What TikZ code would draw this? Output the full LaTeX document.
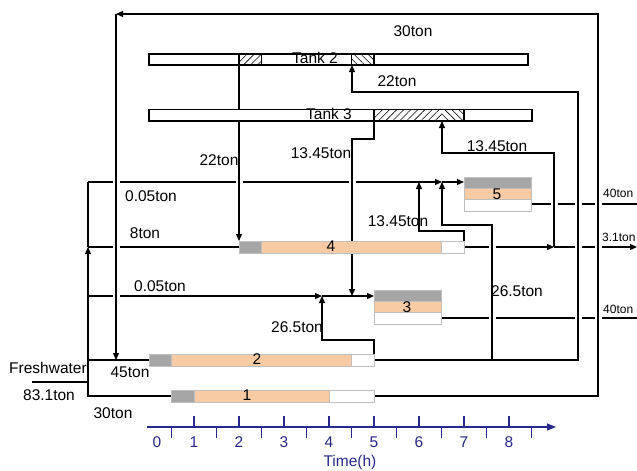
\documentclass[tikz,border=0pt]{standalone}
\usepackage{fontspec}
\setmainfont{Liberation Sans}
\usetikzlibrary{arrows.meta,patterns.meta}

\definecolor{idlegray}{RGB}{166,166,166}
\definecolor{runorange}{RGB}{249,203,164}
\definecolor{edgegray}{RGB}{191,191,191}
\definecolor{axisblue}{RGB}{40,40,140}

% gap in a horizontal pipe where a vertical one crosses it
\newcommand{\linehop}[2]{%
  \fill[white] (#1-3.5,#2-2.2) rectangle (#1+3.5,#2+2.2);
  \draw[flow] (#1,#2-3) -- (#1,#2+3);}

% one operation bar: idle (gray), running (orange), idle (white)
\newcommand{\opbar}[5]{% y, x0, x1, x2, x3
  \fill[idlegray] (#2,#1-6) rectangle (#3,#1+6);
  \fill[runorange] (#3,#1-6) rectangle (#4,#1+6);
  \fill[white] (#4,#1-6) rectangle (#5,#1+6);
  \draw[edge] (#2,#1-6) rectangle (#5,#1+6);
  \draw[edge] (#3,#1-6) -- (#3,#1+6) (#4,#1-6) -- (#4,#1+6);}

% stacked box: idle on top, running, idle below
\newcommand{\opbox}[3]{% x0, x1, ytop
  \fill[idlegray] (#1,#3) rectangle (#2,#3+11);
  \fill[runorange] (#1,#3+11) rectangle (#2,#3+22.5);
  \fill[white] (#1,#3+22.5) rectangle (#2,#3+34);
  \draw[edge] (#1,#3) rectangle (#2,#3+34);
  \draw[edge] (#1,#3+11) -- (#2,#3+11) (#1,#3+22.5) -- (#2,#3+22.5);}

\begin{document}
\begin{tikzpicture}[x=1pt, y=-1pt,
    every node/.style={font=\fontsize{15.5}{18}\selectfont, inner sep=0pt},
    flow/.style={line width=1.2pt},
    arrow/.style={flow, -{Triangle[length=7pt, width=6pt]}},
    edge/.style={edgegray, line width=0.8pt},
    tank/.style={draw, line width=1.1pt, fill=white},
    filling/.style={pattern={Lines[angle=45, distance=5pt, line width=0.6pt]}},
    drawing/.style={pattern={Lines[angle=-45, distance=5pt, line width=0.6pt]}},
    axis/.style={axisblue, line width=1.2pt},
    axislabel/.style={text=axisblue},
    outlabel/.style={anchor=west, font=\fontsize{12}{14}\selectfont}
  ]
  \useasboundingbox (0,0) rectangle (637,471);
  \clip (0,0) rectangle (637,471);

  % --- Ports ---
  \coordinate (fresh) at (32,382);
  \coordinate (split) at (88,382);
  \coordinate (t1in) at (171.5,396);
  \coordinate (t1out) at (374,396);
  \coordinate (t2in) at (149,360);
  \coordinate (t2out) at (374,360);
  \coordinate (t4in) at (239,247);
  \coordinate (t4out) at (464,247);
  \coordinate (t3in) at (374,296);
  \coordinate (t3out) at (441.5,318);
  \coordinate (t5in) at (464,182);
  \coordinate (t5out) at (531.5,204);
  \coordinate (j3) at (322,296);
  \coordinate (j4) at (88,247);
  \coordinate (j5) at (442,182);
  \coordinate (j6) at (554,247);

  % --- Freshwater ---
  \draw[flow] (fresh) -- (split);
  \draw[flow] (split) -- (88,396) -- (t1in);
  \draw[flow] (88,360) -- (t2in);
  \draw[arrow] (split) -- (j4);
  \draw[flow] (j4) -- (t4in);
  \draw[flow] (j4) -- (88,182);
  \draw[arrow] (88,296) -- (j3);
  \draw[arrow] (j3) -- (t3in);
  \draw[arrow] (88,182) -- (j5);
  \draw[arrow] (j5) -- (t5in);

  % --- Reuse loop ---
  \draw[arrow] (t1out) -- (598,396) -- (598,14) -- (116,14);
  \draw[arrow] (116,14) -- (116,360);

  % --- Tanks ---
  \draw[arrow] (239,65) -- (239,241);
  \draw[arrow] (374,121) -- (374,139) -- (352,139) -- (352,296);
  \draw[arrow] (t2out) -- (578,360) -- (578,92) -- (352,92) -- (352,65);
  \draw[arrow] (t2out) -- (374,340) -- (322,340) -- (j3);
  \draw[arrow] (492,360) -- (492,225) -- (442,225) -- (j5);
  \draw[arrow] (t4out) -- (464,231) -- (419,231) -- (419,182);
  \draw[arrow] (t4out) -- (j6);
  \draw[arrow] (j6) -- (637,247);
  \draw[arrow] (j6) -- (554,153) -- (442,153) -- (442,121);
  \draw[flow] (t5out) -- (640,204);
  \draw[flow] (t3out) -- (640,318);

  % line hops
  \linehop{116}{182} \linehop{239}{182} \linehop{352}{182}
  \linehop{116}{247} \linehop{492}{247} \linehop{578}{247} \linehop{598}{247}
  \linehop{116}{296}
  \linehop{554}{204} \linehop{578}{204} \linehop{598}{204}
  \linehop{492}{318} \linehop{578}{318} \linehop{598}{318}

  \draw[tank] (149,54) rectangle (528,65);
  \fill[filling] (239,54) rectangle (261.5,65);
  \fill[drawing] (351.5,54) rectangle (374,65);
  \draw[line width=1.1pt] (239,54) rectangle (261.5,65) (351.5,54) rectangle (374,65);
  \node (tank2) at (315,58) {Tank 2};

  \draw[tank] (149,109.5) rectangle (532,121);
  \fill[filling] (374,109.5) rectangle (441.5,121);
  \fill[drawing] (441.5,109.5) rectangle (464,121);
  \draw[line width=1.1pt] (374,109.5) rectangle (464,121);
  \node (tank3) at (329,114) {Tank 3};

  % --- Operations ---
  \opbar{396}{171.5}{194}{329}{374}
  \node (op1) at (247,395) {1};
  \opbar{360}{149}{171.5}{351.5}{374}
  \node (op2) at (257,359) {2};
  \opbar{247}{239}{261.5}{441.5}{464}
  \node (op4) at (331,246) {4};
  \opbox{374}{441.5}{290}
  \node (op3) at (407,307) {3};
  \opbox{464}{531.5}{177}
  \node (op5) at (497,194) {5};

  % --- Flow labels ---
  \node (lfresh) at (48,368) {Freshwater};
  \node (ltotal) at (49,395) {83.1ton};
  \node (l45) at (130,372) {45ton};
  \node (l30a) at (113,413) {30ton};
  \node (l30b) at (413,31) {30ton};
  \node (l22a) at (397,81) {22ton};
  \node (l22b) at (219,160) {22ton};
  \node (l1345a) at (321,153) {13.45ton};
  \node (l1345b) at (497,146) {13.45ton};
  \node (l1345c) at (398,221) {13.45ton};
  \node (l005a) at (151,196) {0.05ton};
  \node (l8) at (145,233) {8ton};
  \node (l005b) at (160,286) {0.05ton};
  \node (l265a) at (517,291) {26.5ton};
  \node (l265b) at (297,327) {26.5ton};
  \node[outlabel] (l40a) at (603,193) {40ton};
  \node[outlabel] (l31) at (602,237) {3.1ton};
  \node[outlabel] (l40b) at (603,309) {40ton};

  % --- Time axis ---
  \draw[axis, -{Triangle[length=9pt, width=7pt]}] (147,427) -- (556,427);
  \foreach \k in {1,...,8} {
    \draw[axis] (149+45*\k,416) -- (149+45*\k,427);
    \node[axislabel] (h\k) at (149+45*\k,442) {\k};
  }
  \foreach \k in {0,...,8}
    \draw[axis] (171.5+45*\k,427) -- (171.5+45*\k,438);
  \node[axislabel] (h0) at (157,442) {0};
  \node[axislabel] (ltime) at (350,462) {Time(h)};
\end{tikzpicture}
\end{document}
